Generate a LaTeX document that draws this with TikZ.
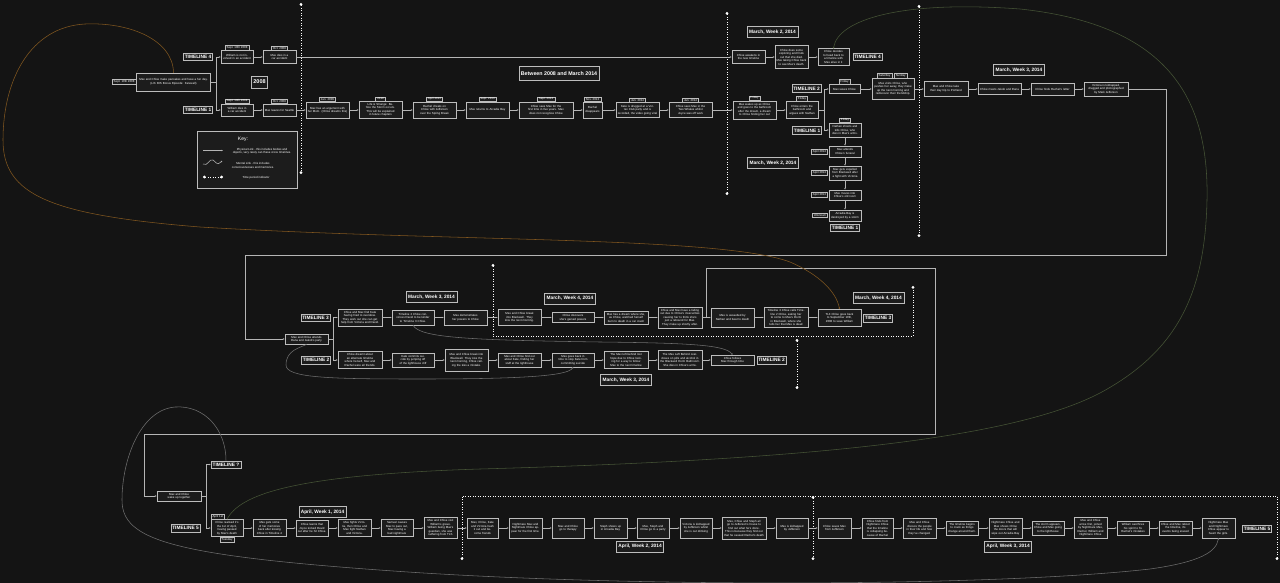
\documentclass[tikz,border=0pt]{standalone}
\usepackage{fontspec}
\setmainfont{Liberation Sans}
\usetikzlibrary{arrows.meta}
\definecolor{bgc}{HTML}{141414}
\definecolor{boxfill}{HTML}{1C1C1C}
\definecolor{boxline}{HTML}{BDBDBD}
\definecolor{linec}{HTML}{B5B5B5}
\definecolor{mindc}{HTML}{6E6E6E}
\definecolor{orangec}{HTML}{80561F}
\definecolor{greenc}{HTML}{465436}
\newcommand\boxtext{\fontsize{2.9}{3.5}\selectfont}
\newcommand\tagtext{\fontsize{2.9}{3.4}\selectfont}
\newcommand\labtext{\fontsize{4.8}{5.5}\selectfont\bfseries}
\newcommand\headtext{\fontsize{4.8}{5.5}\selectfont\bfseries}
\begin{document}
\begin{tikzpicture}
  [x=1pt, y=-1pt, >={Latex[length=1.8pt,width=1.6pt]},
   event/.style={draw=boxline, fill=boxfill, text=white, font=\boxtext, align=center,
     text width=#1, inner xsep=1.5pt, inner ysep=2pt, line width=0.5pt},
   event/.default=40pt,
   tag/.style={draw=boxline, fill=boxfill, text=white, font=\tagtext, inner xsep=1.6pt,
     inner ysep=1pt, line width=0.4pt},
   tlabel/.style={draw=boxline, fill=boxfill, text=white, font=\labtext, inner xsep=1.5pt,
     inner ysep=1pt, minimum height=7.5pt, line width=0.5pt},
   heading/.style={draw=boxline, fill=boxfill, text=white, font=\headtext, inner xsep=2pt,
     minimum height=10pt, line width=0.5pt},
   link/.style={draw=linec, line width=0.45pt, ->},
   mental/.style={draw=#1, line width=0.55pt, -{Circle[length=1.5pt]}},
   mental/.default=mindc,
   period/.style={draw=white, line width=0.9pt, dash pattern=on 0.9pt off 1.6pt,
     {Circle[length=2.8pt]}-{Circle[length=2.8pt]}}]
  \path[fill=bgc, use as bounding box] (0,0) rectangle (1280,583);

  \coordinate (d1a) at (301,3);
  \coordinate (d1b) at (301,174);
  \coordinate (d2a) at (727,12);
  \coordinate (d2b) at (727,195);
  \coordinate (d3a) at (919,5);
  \coordinate (d3b) at (919,237);
  \coordinate (d4a) at (493,264);
  \coordinate (d4b) at (493,336);
  \coordinate (d4c) at (913,336);
  \coordinate (d4d) at (913,286);
  \coordinate (d5a) at (797,339);
  \coordinate (d5b) at (797,389);
  \coordinate (d6a) at (462,560);
  \coordinate (d6b) at (462,496);
  \coordinate (d6c) at (1277,496);
  \coordinate (d6d) at (1277,560);
  \coordinate (d7a) at (813,496);
  \coordinate (d7b) at (813,560);
  \draw[period] (d1a) -- (d1b);
  \draw[period] (d2a) -- (d2b);
  \draw[period] (d3a) -- (d3b);
  \draw[period] (d4a) -- (d4b) -- (d4c) -- (d4d);
  \draw[period] (d5a) -- (d5b);
  \draw[period] (d6a) -- (d6b) -- (d6c) -- (d6d);
  \draw[period] (d7a) -- (d7b);

  \node[heading, font=\fontsize{5.5}{6}\selectfont\bfseries, minimum height=12pt] (y2008) at (259.5,82) {2008};
  \node[heading, font=\fontsize{5.3}{6}\selectfont\bfseries, minimum height=14pt] (between) at (559,73.5) {Between 2008 and March 2014};
  \node[heading] (mw2a) at (772.5,32) {March, Week 2, 2014};
  \node[heading] (mw2b) at (773,163) {March, Week 2, 2014};
  \node[heading] (mw3a) at (1019,70) {March, Week 3, 2014};
  \node[heading] (mw3b) at (431.5,297) {March, Week 3, 2014};
  \node[heading] (mw3c) at (626,380) {March, Week 3, 2014};
  \node[heading] (mw4a) at (570,298.5) {March, Week 4, 2014};
  \node[heading] (mw4b) at (878.5,298) {March, Week 4, 2014};
  \node[heading] (aw1) at (322.5,512) {April, Week 1, 2014};
  \node[heading] (aw2) at (640,546.5) {April, Week 2, 2014};
  \node[heading] (aw3) at (1008,546.5) {April, Week 3, 2014};

  \node[tlabel] (tl4a) at (198,57) {TIMELINE 4};
  \node[tlabel] (tl1a) at (198,110) {TIMELINE 1};
  \node[tlabel] (tl4b) at (867.5,57) {TIMELINE 4};
  \node[tlabel] (tl2a) at (806.5,88.5) {TIMELINE 2};
  \node[tlabel] (tl1b) at (807,130.5) {TIMELINE 1};
  \node[tlabel] (tl1c) at (845,227.5) {TIMELINE 1};
  \node[tlabel] (tl3a) at (315.5,317.5) {TIMELINE 3};
  \node[tlabel] (tl2b) at (316,360) {TIMELINE 2};
  \node[tlabel] (tl3b) at (878,318) {TIMELINE 3};
  \node[tlabel] (tl2c) at (771.5,360) {TIMELINE 2};
  \node[tlabel] (tlq) at (226,464.5) {TIMELINE ?};
  \node[tlabel] (tl5a) at (185.5,528) {TIMELINE 5};
  \node[tlabel] (tl5b) at (1257,528.5) {TIMELINE 5};

  \node[draw=boxline, fill=boxfill, line width=0.5pt, minimum width=100pt, minimum height=57pt] (key) at (247,159.5) {};
  \node[text=white, font=\fontsize{5}{6}\selectfont] (keyt) at (243,139.5) {Key:};
  \coordinate (k1a) at (203,150.5);
  \coordinate (k1b) at (223,150.5);
  \coordinate (k2a) at (203,164);
  \coordinate (k2b) at (222,161);
  \coordinate (k3a) at (203,177);
  \coordinate (k3b) at (223,177);
  \draw[link] (k1a) -- (k1b);
  \draw[mental=linec] (k2a) .. controls (208,167) and (209,158) .. (213,160) .. controls (216,162) and (217,166) .. (k2b);
  \draw[period] (k3a) -- (k3b);
  \node[text=white, font=\boxtext, align=center] (k1t) at (262,151.5) {Physical Link - this includes bodies and\\objects, very rarely can these cross timelines.};
  \node[text=white, font=\boxtext, align=center] (k2t) at (253,165.5) {Mental Link - this includes\\consciousnesses and memories.};
  \node[text=white, font=\boxtext, align=center] (k3t) at (256,178) {Time period indicator};

  \node[event=71pt, minimum height=18pt] (pan) at (173.5,82) {Max and Chloe make pancakes and have a fun day.\\(LiS: BtS Bonus Episode: Farewell)};
  \node[tag, anchor=east] (tpan) at (pan.west) {Sept. 10th 2008};
  \node[event=29pt, minimum height=13pt] (b4a) at (237,57) {William is not involved in an accident};
  \node[tag, anchor=south] (tb4a) at (b4a.north) {Sept. 10th 2008};
  \node[event=30pt, minimum height=13pt] (b4b) at (279.5,57) {Max dies in a car accident};
  \node[tag, anchor=south] (tb4b) at (b4b.north) {Oct. 2008};
  \node[event=29pt, minimum height=12pt] (b1a) at (237,110) {William dies in a car accident};
  \node[tag, anchor=south] (tb1a) at (b1a.north) {Sept. 10th 2008};
  \node[event=30pt, minimum height=12pt] (b1b) at (279.5,110) {Max leaves for Seattle};
  \node[tag, anchor=south] (tb1b) at (b1b.north) {Oct. 2008};
  \node[event, minimum height=16pt] (b1c) at (327.5,110) {Max has an argument with her Mom. (Chloe dreams this)};
  \node[tag, anchor=south] (tb1c) at (b1c.north) {Jan. 2009};
  \node[event, minimum height=16pt] (b1d) at (380.5,110) {Life is Strange: Before the Storm occurs.\\This will be explained in future chapters};
  \node[tag, anchor=south] (tb1d) at (b1d.north) {2010};
  \node[event, minimum height=16pt] (b1e) at (434.5,110) {Rachel cheats on Chloe with Jefferson over the Spring Break};
  \node[tag, anchor=south] (tb1e) at (b1e.north) {April 2013};
  \node[event, minimum height=16pt] (b1f) at (487.5,110) {Max returns to Arcadia Bay};
  \node[tag, anchor=south] (tb1f) at (b1f.north) {Sept. 2013};
  \node[event=51pt, minimum height=16pt] (b1g) at (546,110) {Chloe sees Max for the first time in five years. Max does not recognise Chloe};
  \node[tag, anchor=south] (tb1g) at (b1g.north) {Sept. 2013};
  \node[event=16pt, minimum height=16pt] (b1h) at (592.5,110) {Rachel disappears};
  \node[tag, anchor=south] (tb1h) at (b1h.north) {Nov. 2013};
  \node[event, minimum height=15pt] (b1i) at (637.5,110) {Kate is drugged at a Vortex Club party and is recorded, the video going viral};
  \node[tag, anchor=south] (tb1i) at (b1i.north) {Jan. 2014};
  \node[event, minimum height=15pt] (b1j) at (690.5,110) {Chloe sees Max in the Two Whales whilst Joyce was off work};
  \node[tag, anchor=south] (tb1j) at (b1j.north) {Jan. 2014};

  \node[event=30pt, minimum height=13pt] (c4a) at (748.5,57) {Chloe awakens in the new timeline};
  \node[event=30pt, minimum height=23pt] (c4b) at (791.5,57) {Chloe does some exploring and finds out that she died.\\Max taking Chloe back to see Max's death.};
  \node[event=28pt, minimum height=14pt] (c4c) at (833.5,57) {Chloe decides to head back to a timeline with Max alive in it};
  \node[event, minimum height=18pt] (m1a) at (754.5,110) {Max wakes up as Chloe and goes to the bathroom after the dream, a dream to Chloe finding her out};
  \node[tag, anchor=south] (tm1a) at (m1a.north) {Friday};
  \node[event=29pt, minimum height=17pt] (m1b) at (802,110) {Chloe enters the bathroom and argues with Nathan};
  \node[tag, anchor=south] (tm1b) at (m1b.north) {Friday};
  \node[event=28pt, minimum height=9pt] (m2a) at (844.5,89) {Max saves Chloe};
  \node[tag, anchor=south] (tm2a) at (m2a.north) {Friday};
  \node[event=39pt, minimum height=21pt] (m2b) at (893,89) {Max visits Chloe, who pushes her away, they make up the next morning and rediscover their friendship.};
  \node[tag, anchor=south east] (tm2b) at ([xshift=-1pt]m2b.north) {Saturday};
  \node[tag, anchor=south west] (tm2c) at ([xshift=1pt]m2b.north) {Sunday};
  \node[event=41pt, minimum height=15pt] (m2c) at (946,89) {Max and Chloe take their day trip to Portland};
  \node[event, minimum height=11pt] (m2d) at (999.5,89) {Chloe meets Jakob and Dana};
  \node[event, minimum height=12pt] (m2e) at (1052.5,89) {Chloe finds Rachel's letter};
  \node[event=41pt, minimum height=14pt] (m2f) at (1106,89) {Victoria is kidnapped, drugged and photographed by Mark Jefferson};
  \node[event=29pt, minimum height=14pt] (n1a) at (845,130) {Nathan shoots and kills Chloe, who dies in Max's arms.};
  \node[tag, anchor=south] (tn1a) at (n1a.north) {Friday};
  \node[event=29pt, minimum height=11pt] (n1b) at (845,151.5) {Max attends Chloe's funeral};
  \node[tag, anchor=east] (tn1b) at ([xshift=-1pt]n1b.west) {April 2014};
  \node[event=29pt, minimum height=12pt] (n1c) at (845,173) {Max gets expelled from Blackwell after a fight with Victoria};
  \node[tag, anchor=east] (tn1c) at ([xshift=-1pt]n1c.west) {April 2014};
  \node[event=29pt, minimum height=10pt] (n1d) at (845,195) {Max moves into Chloe's old room};
  \node[tag, anchor=east] (tn1d) at ([xshift=-1pt]n1d.west) {April 2014};
  \node[event=29pt, minimum height=11pt] (n1e) at (845,215.5) {Arcadia Bay is destroyed by a storm};
  \node[tag, anchor=east] (tn1e) at ([xshift=-1pt]n1e.west) {Unknown};

  \node[event, minimum height=9pt] (p0) at (306.5,339) {Max and Chloe attends Dana and Jakob's party};
  \node[event=41pt, minimum height=15pt] (p3a) at (360,317.5) {Chloe and Max find Kate having tried to overdose. They work out she can get help from Victoria and David.};
  \node[event=39pt, minimum height=15pt] (p3b) at (413,317.5) {Timeline 2 Chloe convinces David to be kinder to Timeline 3 Chloe.};
  \node[event, minimum height=15pt] (p3c) at (465.5,317.5) {Max demonstrates her powers to Chloe};
  \node[event, minimum height=16pt] (p3d) at (519.5,317.5) {Max and Chloe break into Blackwell. They kiss the next morning.};
  \node[event=39pt, minimum height=10pt] (p3e) at (573,317.5) {Chloe discovers she's gained powers};
  \node[event=41pt, minimum height=12pt] (p3f) at (626,317.5) {Max has a dream where she, as Chloe, watched herself burn to death in a car crash};
  \node[event=41pt, minimum height=21pt] (p3g) at (680,317.5) {Chloe and Max have a falling out due to Chloe's insecurities causing her to think she's just a rebound for Max. They make up shortly after.};
  \node[event, minimum height=19pt] (p3h) at (732.5,317.5) {Max is assaulted by Nathan and beat to death};
  \node[event=41pt, minimum height=17pt] (p3i) at (786,317.5) {Timeline 3 Chloe calls Timeline 2 Chloe, asking her to come to Max's Dorm in Blackwell, where she tells her that Max is dead};
  \node[event, minimum height=17pt] (p3j) at (839.5,317.5) {TL3 Chloe goes back to September 10th, 2008 to save William};
  \node[event=41pt, minimum height=14pt] (p2a) at (360,360) {Chloe dreamt about an alternate timeline where herself, Max and Rachel were all friends.};
  \node[event=39pt, minimum height=12pt] (p2b) at (413,360) {Kate commits suicide by jumping off of the lighthouse cliff};
  \node[event, minimum height=22pt] (p2c) at (466.5,360) {Max and Chloe break into Blackwell. They kiss the next morning, Chloe calling the kiss a mistake.};
  \node[event, minimum height=13pt] (p2d) at (519.5,360) {Max and Chloe find out about Kate, finding her stuff at the lighthouse};
  \node[event=39pt, minimum height=13pt] (p2e) at (573,360) {Max goes back in time to stop Kate from committing suicide};
  \node[event=41pt, minimum height=17pt] (p2f) at (626,360) {The Max left behind lost hope due to Chloe looking for a way to follow Max to the next timeline};
  \node[event=41pt, minimum height=19pt] (p2g) at (680,360) {The Max Left Behind overdoses on pills and alcohol in the Blackwell Dorm Bathroom. She dies in Chloe's arms.};
  \node[event, minimum height=9pt] (p2h) at (732.5,360) {Chloe follows Max through time};

  \node[event=41pt, minimum height=10pt] (w0) at (179,496) {Max and Chloe wake up together};
  \node[event=29pt, minimum height=17pt] (q1) at (227,528) {Chloe realised it's the 1st of April, having passed by Max's death};
  \node[tag, anchor=south west] (tq1a) at (q1.north west) {April 1st};
  \node[tag, anchor=north] (tq1b) at (q1.south) {Tuesday};
  \node[event=30pt, minimum height=16pt] (q2) at (269.5,528) {Max gets some of her memories back after kissing Chloe in Timeline 4};
  \node[event=29pt, minimum height=16pt] (q3) at (312,528) {Chloe learns that Joyce kicked David out after he hit Chloe.};
  \node[event=30pt, minimum height=16pt] (q4) at (354.5,528) {Max fights Victoria, then Chloe and Max fight Nathan and Victoria.};
  \node[event=29pt, minimum height=16pt] (q5) at (397,528) {Samuel causes Max to pass out, Max having a bad nightmare};
  \node[event=30pt, minimum height=19pt] (q6) at (440.5,528) {Max and Chloe visit William's grave. William being Max's guardian, she was suffering from TLS};
  \node[event=28pt, minimum height=20pt] (q7) at (482.5,528) {Max, Chloe, Kate and Victoria hash it out and become friends};
  \node[event=30pt, minimum height=20pt] (q8) at (525.5,528) {Nightmare Max and Nightmare Chloe appear for the first time.};
  \node[event=29pt, minimum height=20pt] (q9) at (568,528) {Max and Chloe go to therapy};
  \node[event=30pt, minimum height=20pt] (q10) at (610.5,528) {Steph shows up in Arcadia Bay};
  \node[event=29pt, minimum height=20pt] (q11) at (653,528) {Max, Steph and Chloe go to a party};
  \node[event=29pt, minimum height=20pt] (q12) at (696,528) {Victoria is kidnapped by Jefferson whilst she is out drinking};
  \node[event=41pt, minimum height=22pt] (q13) at (744,528) {Max, Chloe and Steph all go to Jefferson's house to find out what he's done.\\This is because they find out that he caused Rachel's death};
  \node[event=29pt, minimum height=20pt] (q14) at (792,528) {Max is kidnapped by Jefferson};
  \node[event=30pt, minimum height=20pt] (q15) at (834.5,528) {Chloe saves Max from Jefferson};
  \node[event=28pt, minimum height=20pt] (q16) at (877.5,528) {Chloe finds from Nightmare Chloe that the timeline is collapsing because of Rachel};
  \node[event=30pt, minimum height=20pt] (q17) at (919.5,528) {Max and Chloe discuss the people in their life and how they've changed.};
  \node[event=29pt, minimum height=9pt] (q18) at (962,528) {The timeline begins to crack as things change around them.};
  \node[event=30pt, minimum height=20pt] (q19) at (1005.5,528) {Nightmare Chloe and Max shows Chloe the doors that will wipe out Arcadia Bay};
  \node[event=29pt, minimum height=13pt] (q20) at (1048,528) {The storm appears, Chloe and Max going to the lighthouse};
  \node[event=30pt, minimum height=20pt] (q21) at (1090.5,528) {Max and Chloe arrive first, joined by Nightmare Max, Rachel, William and Nightmare Chloe};
  \node[event=29pt, minimum height=14pt] (q22) at (1133,528) {William sacrifices his spirit to fix Rachel's mistakes};
  \node[event=30pt, minimum height=14pt] (q23) at (1175.5,528) {Chloe and Max reboot the timeline, it's events being erased};
  \node[event=30pt, minimum height=20pt] (q24) at (1218.5,528) {Nightmare Max and Nightmare Chloe appear to haunt the girls.};

  \coordinate (r1) at (1166,255);
  \coordinate (r2) at (245,255);
  \coordinate (s1) at (935,268);
  \coordinate (s2) at (144,434);

  \draw[link] (pan.east) -- ++(5,0) |- (b4a);
  \draw[link] (pan.east) -- ++(5,0) |- (b1a);
  \draw[link] (b4a) -- (b4b);
  \draw[link] (b4b) -- (c4a);
  \draw[link] (c4a) -- (c4b);
  \draw[link] (c4b) -- (c4c);
  \draw[link] (b1a) -- (b1b);
  \draw[link] (b1b) -- (b1c);
  \draw[link] (b1c) -- (b1d);
  \draw[link] (b1d) -- (b1e);
  \draw[link] (b1e) -- (b1f);
  \draw[link] (b1f) -- (b1g);
  \draw[link] (b1g) -- (b1h);
  \draw[link] (b1h) -- (b1i);
  \draw[link] (b1i) -- (b1j);
  \draw[link] (b1j) -- (m1a);
  \draw[link] (m1a) -- (m1b);
  \draw[link] (m1b.east) -- ++(6,0) |- (m2a);
  \draw[link] (m1b.east) -- ++(6,0) |- (n1a);
  \draw[link] (m2a) -- (m2b);
  \draw[link] (m2b) -- (m2c);
  \draw[link] (m2c) -- (m2d);
  \draw[link] (m2d) -- (m2e);
  \draw[link] (m2e) -- (m2f);
  \draw[link] (n1a) -- (n1b);
  \draw[link] (n1b) -- (n1c);
  \draw[link] (n1c) -- (n1d);
  \draw[link] (n1d) -- (n1e);
  \draw[link] (m2f.east) -| (r1) -- (r2) |- (p0);
  \draw[link] (p0.east) -- ++(5,0) |- (p3a);
  \draw[link] (p0.east) -- ++(5,0) |- (p2a);
  \draw[link] (p3a) -- (p3b);
  \draw[link] (p3b) -- (p3c);
  \draw[link] (p3c) -- (p3d);
  \draw[link] (p3d) -- (p3e);
  \draw[link] (p3e) -- (p3f);
  \draw[link] (p3f) -- (p3g);
  \draw[link] (p3g) -- (p3h);
  \draw[link] (p3h) -- (p3i);
  \draw[link] (p3i) -- (p3j);
  \draw[link] (p3g.east) -- ++(4,0) |- (s1) |- (s2) |- (w0);
  \draw[link] (p2a) -- (p2b);
  \draw[link] (p2b) -- (p2c);
  \draw[link] (p2c) -- (p2d);
  \draw[link] (p2d) -- (p2e);
  \draw[link] (p2e) -- (p2f);
  \draw[link] (p2f) -- (p2g);
  \draw[link] (p2g) -- (p2h);
  \draw[link] (w0.east) -- ++(5,0) |- (tlq);
  \draw[link] (w0.east) -- ++(5,0) |- (q1);
  \draw[link] (q1) -- (q2);
  \draw[link] (q2) -- (q3);
  \draw[link] (q3) -- (q4);
  \draw[link] (q4) -- (q5);
  \draw[link] (q5) -- (q6);
  \draw[link] (q6) -- (q7);
  \draw[link] (q7) -- (q8);
  \draw[link] (q8) -- (q9);
  \draw[link] (q9) -- (q10);
  \draw[link] (q10) -- (q11);
  \draw[link] (q11) -- (q12);
  \draw[link] (q12) -- (q13);
  \draw[link] (q13) -- (q14);
  \draw[link] (q14) -- (q15);
  \draw[link] (q15) -- (q16);
  \draw[link] (q16) -- (q17);
  \draw[link] (q17) -- (q18);
  \draw[link] (q18) -- (q19);
  \draw[link] (q19) -- (q20);
  \draw[link] (q20) -- (q21);
  \draw[link] (q21) -- (q22);
  \draw[link] (q22) -- (q23);
  \draw[link] (q23) -- (q24);

  \draw[mental] (p3b.south) .. controls (420,338) and (470,340) .. (600,342) .. controls (690,343) and (725,345) .. (p2h.north);
  \draw[mental] (p0.south) .. controls (300,348) and (286,350) .. (286,365) .. controls (286,378) and (330,379) .. (420,379) .. controls (520,379) and (568,376) .. (p2e.south);
  \draw[mental=orangec] (pan.north) .. controls (173,40) and (130,22) .. (85,24) .. controls (30,27) and (3,80) .. (3,140) .. controls (3,195) and (50,215) .. (200,227) .. controls (450,242) and (720,236) .. (790,262) .. controls (820,275) and (836,292) .. (p3j.north);
  \draw[mental=greenc] (q1.north) .. controls (240,495) and (290,475) .. (480,469) .. controls (800,460) and (1010,440) .. (1100,393) .. controls (1180,350) and (1205,290) .. (1207,200) .. controls (1209,100) and (1170,25) .. (1020,9) .. controls (900,0) and (838,20) .. (c4c.north);
  \draw[mental] (tlq.north) .. controls (226,430) and (205,405) .. (175,407) .. controls (140,410) and (122,460) .. (122,500) .. controls (122,540) and (170,556) .. (408,572) .. controls (650,588) and (1000,586) .. (1150,569) .. controls (1200,562) and (1216,552) .. (q24.south);
\end{tikzpicture}
\end{document}
